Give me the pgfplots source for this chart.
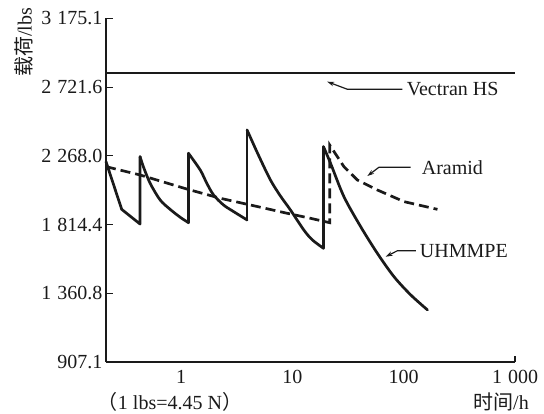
\documentclass[border=0pt]{standalone}
\usepackage{pgfplots}
\pgfplotsset{compat=1.18}
\usepackage{fontspec}
\setmainfont{Liberation Serif}
\newfontfamily\cjk{Noto Sans CJK SC}
\usetikzlibrary{arrows.meta}
\definecolor{ink}{HTML}{1A1A1A}
\newcommand{\fs}{\fontsize{20}{23}\selectfont}
\begin{document}
\begin{tikzpicture}
\begin{axis}[
  at={(106pt,51pt)}, anchor=south west,
  scale only axis, width=409pt, height=343.5pt,
  xmode=log, xmin=0.211, xmax=1000,
  ymin=907.1, ymax=3175.1,
  axis x line*=bottom, axis y line*=left,
  axis line style={-, line width=1.3pt, draw=ink},
  xtick={1,10,100,1000},
  xticklabels={1,10,100,1\hspace{0.3em}000},
  minor xtick={},
  x tick style={draw=none},
  xticklabel style={yshift=-5pt},
  ytick={907.1,1360.8,1814.4,2268.0,2721.6,3175.1},
  yticklabels={907.1,1\hspace{0.3em}360.8,1\hspace{0.3em}814.4,2\hspace{0.3em}268.0,2\hspace{0.3em}721.6,3\hspace{0.3em}175.1},
  minor y tick num=9,
  tick align=inside,
  major tick length=7pt, minor tick length=5pt,
  y tick style={line width=1.2pt, draw=ink},
  tick label style={font=\fs, text=ink},
  clip=false,
  every axis plot/.append style={line cap=round, line join=round},
]
% Vectran HS
\addplot[ink, line width=2.7pt, line cap=butt] coordinates {(0.211,2815) (1000,2815)};
% UHMMPE
\addplot[ink, line width=2.7pt] coordinates {(0.211,2230) (0.292,1915) (0.427,1818) (0.427,2263)};
\addplot[ink, line width=2.7pt, smooth] coordinates {(0.427,2263) (0.457,2197) (0.526,2087) (0.647,1977) (0.796,1915) (0.979,1863) (1.163,1827)};
\addplot[ink, line width=2.7pt] coordinates {(1.163,1827) (1.163,2285)};
\addplot[ink, line width=2.7pt, smooth] coordinates {(1.163,2285) (1.483,2175) (1.70,2087) (1.954,2010) (2.40,1944) (2.96,1900) (3.91,1845)};
\addplot[ink, line width=2.7pt] coordinates {(3.91,1845) (3.91,2439)};
\addplot[ink, line width=2.7pt, smooth] coordinates {(3.91,2439) (4.94,2274) (6.34,2109) (7.80,2003) (9.59,1911) (12.64,1779) (15.1,1713) (19.0,1658)};
\addplot[ink, line width=2.7pt] coordinates {(19.0,1658) (19.0,2329)};
\addplot[ink, line width=2.7pt, smooth] coordinates {(19.0,2329) (22.0,2219) (29.0,1999) (41.0,1801) (57.9,1625) (81.8,1470) (115.6,1350) (163.5,1251)};
% Aramid
\addplot[ink, line width=2.7pt, dash pattern=on 10pt off 5pt, line cap=butt, line join=miter] coordinates {
 (0.211,2197) (0.427,2142) (1.125,2049) (2.25,1988) (5.15,1929) (8.96,1889) (14.5,1856) (21.6,1827)
 (21.6,2340) (29.0,2197) (38.3,2109) (57.9,2043) (100.6,1966) (201,1915)
};
% tick at 1000
\draw[ink, line width=1.3pt] (axis cs:1000,907.1) -- (axis cs:1000,950);
% annotations
\tikzset{ann/.style={draw=ink, line width=1.2pt, -{Stealth[length=7pt,width=4.5pt]}}}
\draw[ann] (axis cs:97.3,2708) -- (axis cs:31.1,2708) -- (axis cs:20.5,2758);
\node[anchor=west, font=\fs, text=ink, inner sep=1pt] at (axis cs:104,2708) {Vectran HS};
\draw[ann] (axis cs:115.6,2193) -- (axis cs:59.9,2193) -- (axis cs:47.1,2135);
\node[anchor=west, font=\fs, text=ink, inner sep=1pt] at (axis cs:142,2193) {Aramid};
\draw[ann] (axis cs:128.3,1642) -- (axis cs:87.8,1642) -- (axis cs:68.8,1602);
\node[anchor=west, font=\fs, text=ink, inner sep=1pt] at (axis cs:136.5,1642) {UHMMPE};
\end{axis}
\node[rotate=90, font=\fs, text=ink, inner sep=0pt] at (24pt,370.5pt) {{\cjk 载荷}/lbs};
\node[anchor=base, font=\fs, text=ink, inner sep=0pt] at (170pt,4pt) {{\cjk （}1 lbs=4.45 N{\cjk ）}};
\node[anchor=base, font=\fs, text=ink, inner sep=0pt] at (501pt,4pt) {{\cjk 时间}/h};
\pgfresetboundingbox
\path[use as bounding box] (0,0) rectangle (544pt,413pt);
\end{tikzpicture}
\end{document}
